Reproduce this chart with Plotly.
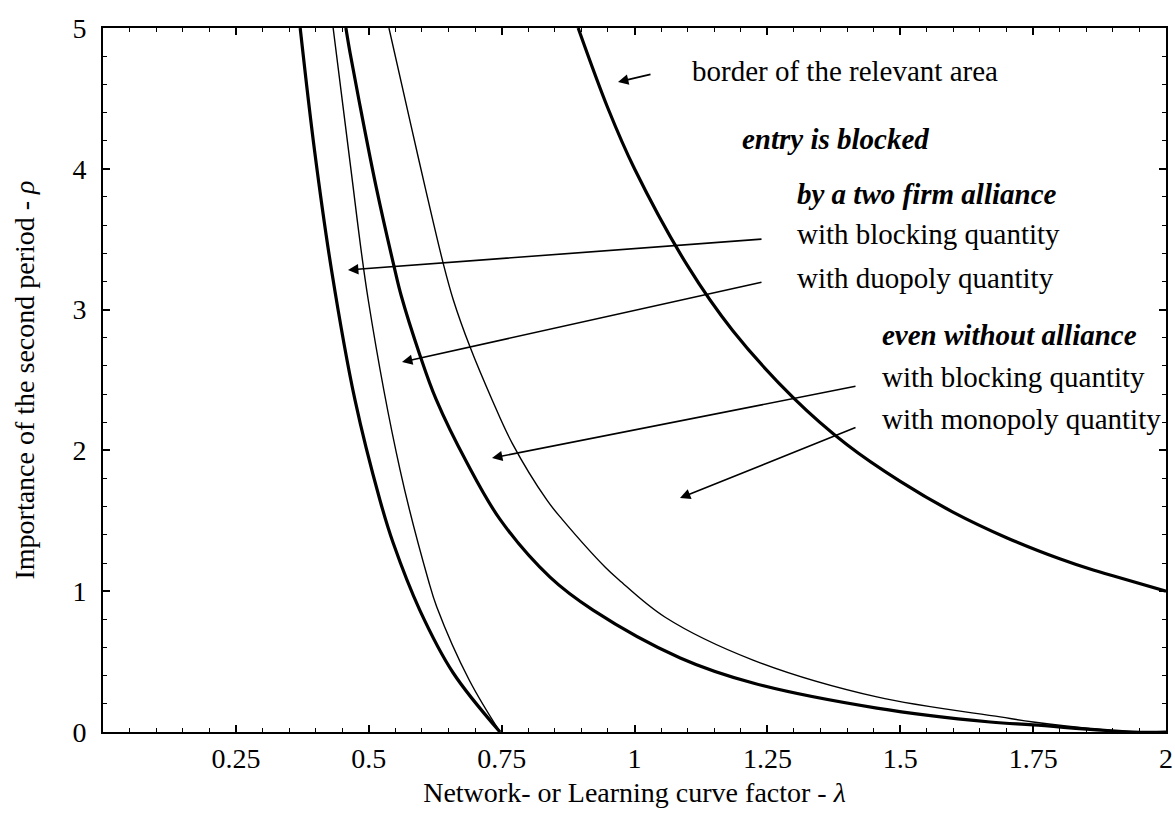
import plotly.graph_objects as go

# ---------------- data ----------------
# two firm alliance, blocking quantity (thick, leftmost)
c1_lam = [0.371, 0.398, 0.430, 0.474, 0.521, 0.546, 0.596, 0.659, 0.747]
c1_rho = [5.00, 4.13, 3.28, 2.36, 1.648, 1.342, 0.866, 0.419, 0.0]
# two firm alliance, duopoly quantity (thin)
c2_lam = [0.433, 0.465, 0.499, 0.559, 0.612, 0.628, 0.689, 0.747]
c2_rho = [5.00, 4.04, 3.07, 1.86, 1.08, 0.888, 0.369, 0.0]
# without alliance, blocking quantity (thick)
c3_lam = [0.457, 0.465, 0.485, 0.514, 0.548, 0.561, 0.596, 0.627, 0.685, 0.747,
          0.841, 0.922, 1.086, 1.223, 1.456, 1.669, 1.750, 1.938, 2.0]
c3_rho = [5.00, 4.82, 4.42, 3.87, 3.30, 3.10, 2.68, 2.36, 1.91, 1.51,
          1.10, 0.866, 0.526, 0.348, 0.170, 0.071, 0.050, 0.0, 0.0]
# without alliance, monopoly quantity (thin)
c4_lam = [0.538, 0.580, 0.606, 0.640, 0.659, 0.691, 0.732, 0.770, 0.835, 0.864,
          0.945, 0.971, 1.057, 1.223, 1.456, 1.688, 1.750, 1.938, 2.0]
c4_rho = [5.00, 4.30, 3.87, 3.33, 3.07, 2.73, 2.36, 2.05, 1.648, 1.51,
          1.17, 1.08, 0.817, 0.511, 0.249, 0.107, 0.071, 0.0, 0.0]
# border of the relevant area (thick)
b_lam = [0.894, 0.95, 1.0, 1.1, 1.185, 1.3, 1.4, 1.5, 1.6, 1.7, 1.8, 1.863, 1.9, 2.0]
b_rho = [5.00, 4.43, 4.0, 3.31, 2.85, 2.37, 2.04, 1.78, 1.56, 1.38, 1.23, 1.15, 1.11, 1.0]

x_tickvals = [0.25, 0.5, 0.75, 1, 1.25, 1.5, 1.75, 2]
x_ticktext = ["0.25", "0.5", "0.75", "1", "1.25", "1.5", "1.75", "2"]
y_tickvals = [0, 1, 2, 3, 4, 5]
y_ticktext = ["0", "1", "2", "3", "4", "5"]

x_title = "Network- or Learning curve factor - <i>λ</i>"
y_title = "Importance of the second period - <i>ρ</i>"

labels = [
    ("border of the relevant area", False),
    ("entry is blocked", True),
    ("by a two firm alliance", True),
    ("with blocking quantity", False),
    ("with duopoly quantity", False),
    ("even without alliance", True),
    ("with blocking quantity", False),
    ("with monopoly quantity", False),
]

# ---------------- layout helpers ----------------
W, H = 1175, 822
L, R, T, B = 103, 1166, 28, 732        # plot frame in window pixels


def px2x(px):
    return (px - L) / (R - L) * 2.0


def px2y(py):
    return (B - py) / (B - T) * 5.0


FONT = "Liberation Serif, Times New Roman, serif"

fig = go.Figure()
curves = [
    (c1_lam, c1_rho, 3.2),
    (c2_lam, c2_rho, 1.4),
    (c3_lam, c3_rho, 3.2),
    (c4_lam, c4_rho, 1.4),
    (b_lam, b_rho, 3.2),
]
for lx, ly, w in curves:
    fig.add_trace(go.Scatter(x=lx, y=ly, mode="lines",
                             line=dict(color="black", width=w, shape="spline", smoothing=1.0),
                             showlegend=False, hoverinfo="skip", cliponaxis=True))

# text labels: (left px, center px) in window pixels
label_pos = [(690, 71), (740, 139), (795, 194), (795, 234), (795, 278),
             (880, 335), (880, 377), (880, 419)]
annotations = []
for (txt, bold_it), (lx, cy) in zip(labels, label_pos):
    t = f"<b><i>{txt}</i></b>" if bold_it else txt
    annotations.append(dict(x=px2x(lx), y=px2y(cy), xref="x", yref="y", text=t,
                            showarrow=False, xanchor="left", yanchor="middle",
                            font=dict(family=FONT, size=29, color="black")))

# arrows: (tail px, tip px) in window pixels
arrows = [((652, 74), (618, 82)),
          ((763, 239), (348, 270)),
          ((763, 282), (402, 362)),
          ((857, 386), (492, 458)),
          ((857, 427), (680, 498))]
for (tx, ty), (hx, hy) in arrows:
    annotations.append(dict(x=px2x(hx), y=px2y(hy), ax=px2x(tx), ay=px2y(ty),
                            xref="x", yref="y", axref="x", ayref="y", text="",
                            showarrow=True, arrowhead=2, arrowsize=1.3, arrowwidth=1.6,
                            arrowcolor="black", standoff=0))

axis_common = dict(showline=True, linecolor="black", linewidth=2, mirror="ticks",
                   ticks="inside", ticklen=7, tickwidth=1.5, tickcolor="black",
                   showgrid=False, zeroline=False, automargin=False,
                   ticklabeloverflow="allow",
                   tickfont=dict(family=FONT, size=28, color="black"))

fig.update_layout(
    width=W, height=H,
    margin=dict(l=L, r=W - R, t=T, b=H - B, autoexpand=False),
    paper_bgcolor="white", plot_bgcolor="white",
    xaxis=dict(range=[0, 2], tickmode="array", tickvals=x_tickvals, ticktext=x_ticktext,
               ticklabelstandoff=0,
               minor=dict(tick0=0, dtick=0.05, ticks="inside", ticklen=4,
                          tickwidth=1.3, tickcolor="black"),
               title=dict(text=x_title, standoff=10,
                          font=dict(family=FONT, size=28, color="black")),
               **axis_common),
    yaxis=dict(range=[0, 5], tickmode="array", tickvals=y_tickvals, ticktext=y_ticktext,
               ticklabelstandoff=9,
               minor=dict(tick0=0, dtick=0.2, ticks="inside", ticklen=4,
                          tickwidth=1.3, tickcolor="black"),
               title=dict(text=y_title, standoff=30,
                          font=dict(family=FONT, size=28, color="black")),
               **axis_common),
    annotations=annotations,
)

# remove the default page margin so the figure fills the window exactly
fig.write_html("out.html",
               config={"displayModeBar": False},
               post_script="document.body.style.margin='0';"
                           "document.body.style.overflow='hidden';")
